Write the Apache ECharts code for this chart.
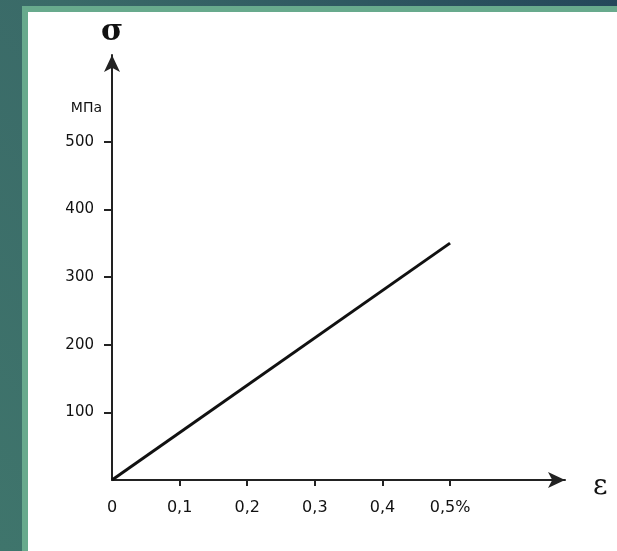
<!DOCTYPE html>
<html><head><meta charset="utf-8">
<script src="https://cdn.jsdelivr.net/npm/echarts@6/dist/echarts.min.js"></script>
<style>html,body{margin:0;padding:0;}#c{width:617px;height:551px;}</style>
</head><body><div id="c"></div>
<script>
var strain = [0, 0.5];
var stress = [0, 350];
var xTicks = [0, 0.1, 0.2, 0.3, 0.4, 0.5];
var xTickLabels = ['0', '0,1', '0,2', '0,3', '0,4', '0,5%'];
var yTicks = [100, 200, 300, 400, 500];
var yTickLabels = ['100', '200', '300', '400', '500'];
var xName = 'ε', yName = 'σ', yUnit = 'МПа';

var chart = echarts.init(document.getElementById('c'));
var data = strain.map(function (v, i) { return [v, stress[i]]; });
var font = 'DejaVu Sans';
chart.setOption({
  animation: false,
  backgroundColor: {
    type: 'linear', x: 0, y: 1, x2: 1, y2: 0,
    colorStops: [{ offset: 0, color: '#3f756c' }, { offset: 0.5, color: '#3a6a68' }, { offset: 1, color: '#24475a' }]
  },
  graphic: [
    { type: 'rect', z: -10, shape: { x: 22, y: 6, width: 620, height: 560 }, style: { fill: '#68aa8d' } },
    { type: 'rect', z: -9, shape: { x: 28, y: 12, width: 620, height: 560 }, style: { fill: '#ffffff' } },
    { type: 'text', x: 102, y: 108, style: { text: yUnit, font: '14px ' + font, fill: '#111', align: 'right', verticalAlign: 'middle' } }
  ],
  grid: { left: 112, right: 52, top: 55, bottom: 71, containLabel: false },
  xAxis: {
    type: 'value', min: 0, max: 0.67,
    name: xName, nameLocation: 'end', nameGap: 28,
    nameTextStyle: { fontFamily: 'DejaVu Serif', fontSize: 28, color: '#111', verticalAlign: 'top', lineHeight: 14 },
    splitLine: { show: false },
    axisLine: { show: true, onZero: false, symbol: ['none', 'arrow'], symbolSize: [12, 17], lineStyle: { color: '#222', width: 2 } },
    axisTick: { show: true, inside: false, length: 6, customValues: xTicks.slice(1), lineStyle: { color: '#222', width: 2 } },
    axisLabel: {
      show: true, margin: 20, customValues: xTicks, fontFamily: font, fontSize: 16, color: '#111',
      formatter: function (v) { var i = xTicks.findIndex(function (t) { return Math.abs(t - v) < 1e-9; }); return i >= 0 ? xTickLabels[i] : ''; }
    }
  },
  yAxis: {
    type: 'value', min: 0, max: 628,
    name: yName, nameLocation: 'end', nameGap: 8,
    nameTextStyle: { fontFamily: 'DejaVu Serif', fontSize: 30, fontWeight: 'bold', color: '#111', align: 'center' },
    splitLine: { show: false },
    axisLine: { show: true, onZero: false, symbol: ['none', 'arrow'], symbolSize: [12, 17], lineStyle: { color: '#222', width: 2 } },
    axisTick: { show: true, inside: false, length: 8, customValues: yTicks, lineStyle: { color: '#222', width: 2 } },
    axisLabel: {
      show: true, margin: 18, customValues: yTicks, fontFamily: font, fontSize: 15, color: '#111',
      formatter: function (v) { var i = yTicks.indexOf(v); return i >= 0 ? yTickLabels[i] : ''; }
    }
  },
  series: [{
    type: 'line', data: data, symbol: 'none',
    lineStyle: { color: '#111', width: 3 }
  }]
});
</script></body></html>
